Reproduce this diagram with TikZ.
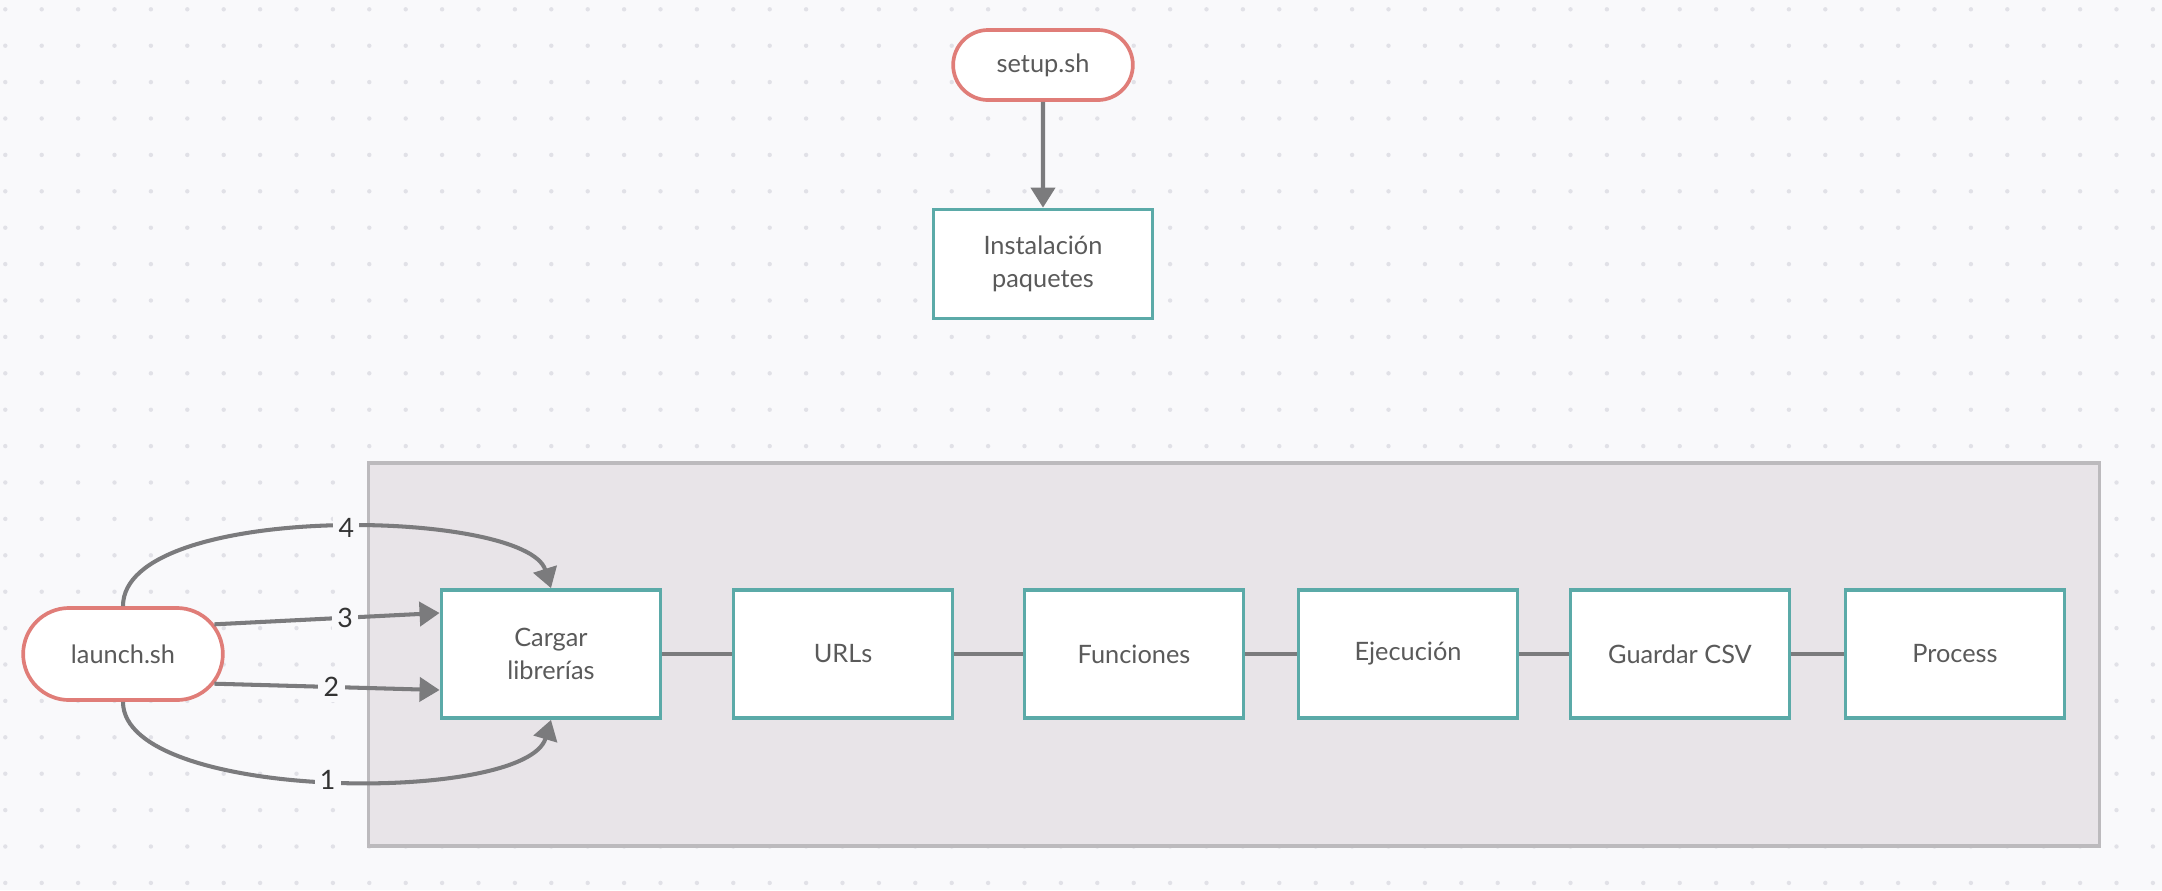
\documentclass[tikz,border=0pt]{standalone}
\usepackage{fontspec}
\setmainfont{Lato}
\usetikzlibrary{arrows.meta,shapes.misc}
\definecolor{pagebg}{HTML}{F9F9FB}
\definecolor{griddot}{HTML}{E1E1E7}
\definecolor{grpfill}{HTML}{E8E4E8}
\definecolor{grpline}{HTML}{BCBABD}
\definecolor{boxline}{HTML}{5BAAA8}
\definecolor{termline}{HTML}{E07D78}
\definecolor{wiregray}{HTML}{7B7B7D}
\definecolor{txt}{HTML}{5A5A5A}

\begin{document}
\begin{tikzpicture}[x=0.01cm, y=-0.01cm, line width=1.05pt,
  >={Triangle[length=0.2cm,width=0.24cm]},
  every node/.style={font=\fontsize{7.2}{9.2}\selectfont, text=txt, align=center},
  term/.style={rounded rectangle, draw=termline, fill=white},
  stepbox/.style={rectangle, draw=boxline, fill=white, minimum width=2.19cm, minimum height=1.28cm},
  wire/.style={draw=wiregray, line width=1.15pt},
  num/.style={fill=pagebg, inner sep=1.5pt, text=black!80, font=\fontsize{7.6}{9}\selectfont}]
  \fill[pagebg] (0,0) rectangle (2162,890);
  \foreach \i in {0,...,59}
    \foreach \j in {0,...,24}
      \fill[griddot] (5.3+36.4*\i, 9.3+36.4*\j) circle (0.022cm);
  \node[draw=grpline, fill=grpfill, line width=1.1pt, minimum width=17.3cm, minimum height=3.83cm] (etl) at (1234,654.5) {};

  \node[term, minimum width=2.03cm, minimum height=0.7cm] (setup) at (1043,65) {setup.sh};
  \node[stepbox, minimum height=1.09cm] (inst) at (1043,264) {Instalación\\paquetes};
  \node[term, minimum width=2.23cm, minimum height=0.92cm] (launch) at (123,654) {launch.sh};
  \node[stepbox] (cargar) at (551,654) {Cargar\\librerías};
  \node[stepbox] (urls) at (843,654) {URLs};
  \node[stepbox] (func) at (1134,654) {Funciones};
  \node[stepbox] (ejec) at (1408,654) {Ejecución};
  \node[stepbox] (csv) at (1680,654) {Guardar CSV};
  \node[stepbox] (proc) at (1955,654) {Process};

  \draw[wire, ->] (setup) -- (inst);
  \foreach \a/\b in {cargar/urls, urls/func, func/ejec, ejec/csv, csv/proc}
    \draw[wire] (\a) -- (\b);

  \draw[wire, ->] (launch.north) .. controls +(0,-105) and +(-25,-80) .. (cargar.north) node[num, pos=0.53] {4};
  \draw[wire, ->] (launch.18) -- ([yshift=0.41cm]cargar.west) node[num, pos=0.58] {3};
  \draw[wire, ->] (launch.-18) -- ([yshift=-0.36cm]cargar.west) node[num, pos=0.52] {2};
  \draw[wire, ->] (launch.south) .. controls +(0,100) and +(-25,85) .. (cargar.south) node[num, pos=0.5] {1};
\end{tikzpicture}
\end{document}
